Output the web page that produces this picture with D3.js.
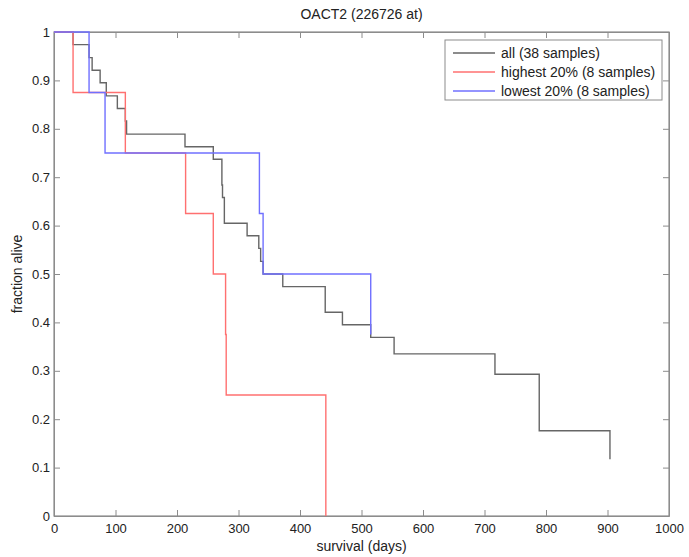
<!DOCTYPE html>
<html>
<head>
<meta charset="utf-8">
<script src="https://cdn.jsdelivr.net/npm/d3@7"></script>
<style>
  body { margin: 0; background: #fff; }
  text { font-family: "Liberation Sans", Arial, sans-serif; fill: #222; }
</style>
</head>
<body>
<div id="vis1"></div>
<script>
// declare constant
const FRAME_HEIGHT = 557
const FRAME_WIDTH = 689
const MARGINS = {left: 54, right: 20, top: 32, bottom: 41}

const VIS_HEIGHT = FRAME_HEIGHT - MARGINS.top - MARGINS.bottom;
const VIS_WIDTH = FRAME_WIDTH - MARGINS.left - MARGINS.right;

// survival curves: day of event and fraction alive after it
const allDays = [0, 31, 57, 62, 75, 85, 103, 116, 118, 213, 259, 273, 274, 277, 314, 333, 336, 340, 372, 441, 469, 515, 553, 717, 789, 904]
const allSurv = [1, 0.974, 0.947, 0.921, 0.895, 0.868, 0.842, 0.816, 0.789, 0.763, 0.737, 0.684, 0.658, 0.605, 0.579, 0.553, 0.526, 0.500, 0.474, 0.421, 0.395, 0.369, 0.335, 0.293, 0.176, 0.117]

const highDays = [0, 31, 116, 214, 259, 279, 280, 442]
const highSurv = [1, 0.875, 0.75, 0.625, 0.5, 0.375, 0.25, 0]

const lowDays = [0, 57, 83, 334, 340, 515]
const lowSurv = [1, 0.875, 0.75, 0.625, 0.5, 0.375]

const xTicks = [0, 100, 200, 300, 400, 500, 600, 700, 800, 900, 1000]
const yTicks = [0, 0.1, 0.2, 0.3, 0.4, 0.5, 0.6, 0.7, 0.8, 0.9, 1]

const legendLabels = ["all (38 samples)", "highest 20% (8 samples)", "lowest 20% (8 samples)"]
const colors = ["#666666", "#ff7070", "#7070ff"]

const FRAME1 = d3.select('#vis1')
                  .append('svg')
                  .attr('height', FRAME_HEIGHT)
                  .attr('width', FRAME_WIDTH)

const x = d3.scaleLinear().domain([0, 1000]).range([0, VIS_WIDTH]);
const y = d3.scaleLinear().domain([0, 1]).range([VIS_HEIGHT, 0]);

const plot = FRAME1.append("g")
    .attr("transform", "translate(" + MARGINS.left + "," + MARGINS.top + ")");

// axes, ticks pointing inward like matlab
const axisCol = "#8c8c8c";
plot.append("g")
    .attr("transform", "translate(0," + VIS_HEIGHT + ")")
    .call(d3.axisBottom(x).tickValues(xTicks).tickSizeInner(-6).tickSizeOuter(0).tickPadding(8).tickFormat(d3.format("d")))
    .call(g => g.selectAll("text").attr("font-size", 13));
plot.append("g")
    .call(d3.axisTop(x).tickValues(xTicks).tickSizeInner(-6).tickSizeOuter(0).tickFormat(""));
plot.append("g")
    .call(d3.axisLeft(y).tickValues(yTicks).tickSizeInner(-6).tickSizeOuter(0).tickPadding(4).tickFormat(d => d === 0 || d === 1 ? d3.format("d")(d) : d3.format(".1f")(d)))
    .call(g => g.selectAll("text").attr("font-size", 13));
plot.append("g")
    .attr("transform", "translate(" + VIS_WIDTH + ",0)")
    .call(d3.axisRight(y).tickValues(yTicks).tickSizeInner(-6).tickSizeOuter(0).tickFormat(""));

plot.selectAll(".domain, .tick line").attr("stroke", axisCol);
plot.selectAll(".tick text").attr("fill", "#222").attr("font-family", "Liberation Sans, Arial, sans-serif");

// box
plot.append("rect")
    .attr("width", VIS_WIDTH).attr("height", VIS_HEIGHT)
    .attr("fill", "none").attr("stroke", axisCol).attr("stroke-width", 1.2);

// the step curves
const line = d3.line()
    .x(d => x(d[0]))
    .y(d => y(d[1]))
    .curve(d3.curveStepAfter);

const series = [
  d3.zip(allDays, allSurv),
  d3.zip(highDays, highSurv),
  d3.zip(lowDays, lowSurv)
];

series.forEach((s, i) => {
  plot.append("path")
      .datum(s)
      .attr("d", line)
      .attr("fill", "none")
      .attr("stroke", colors[i])
      .attr("stroke-width", 1.4);
});

// legend
const legend = FRAME1.append("g").attr("transform", "translate(445,40)");
legend.append("rect")
    .attr("width", 217).attr("height", 60)
    .attr("fill", "#fff").attr("stroke", axisCol);
legendLabels.forEach((lab, i) => {
  legend.append("line")
      .attr("x1", 8).attr("x2", 50)
      .attr("y1", 13 + i * 19).attr("y2", 13 + i * 19)
      .attr("stroke", colors[i]).attr("stroke-width", 1.4);
  legend.append("text")
      .attr("x", 56).attr("y", 13 + i * 19)
      .attr("dy", "0.35em")
      .attr("font-size", 14)
      .text(lab);
});

// title and axis labels
FRAME1.append("text")
    .attr("x", MARGINS.left + VIS_WIDTH / 2)
    .attr("y", 19)
    .attr("text-anchor", "middle")
    .attr("font-size", 14)
    .text("OACT2 (226726 at)");

FRAME1.append("text")
    .attr("x", MARGINS.left + VIS_WIDTH / 2)
    .attr("y", 551)
    .attr("text-anchor", "middle")
    .attr("font-size", 14)
    .text("survival (days)");

FRAME1.append("text")
    .attr("transform", "translate(22," + (MARGINS.top + VIS_HEIGHT / 2) + ") rotate(-90)")
    .attr("text-anchor", "middle")
    .attr("font-size", 14)
    .text("fraction alive");
</script>
</body>
</html>
